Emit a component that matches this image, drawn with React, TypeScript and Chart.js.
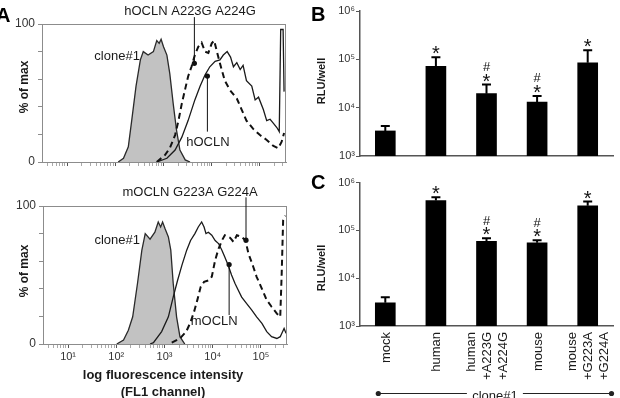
import React, { useEffect, useRef } from "react";
import { Chart, registerables } from "chart.js";

Chart.register(...registerables);

const FONT = '"Liberation Sans", Arial, Helvetica, sans-serif';
const SUP = ["\u2070", "\u00B9", "\u00B2", "\u00B3", "\u2074", "\u2075", "\u2076"];

// ---------- Panel A, top (human occludin) : x = log10(FL1), y = % of max ----------
const topCloneX = [2.06, 2.17, 2.27, 2.34, 2.43, 2.52, 2.58, 2.68, 2.79, 2.86, 2.91, 2.95, 3.0, 3.07, 3.13, 3.2, 3.27, 3.34, 3.45, 3.55];
const topCloneY = [0, 2.7, 11, 30, 55, 74, 80, 77.5, 80, 88, 86, 89, 83.5, 77.5, 64, 42.5, 23, 8.7, 1.5, 0];
const topWtX = [2.86, 3.07, 3.24, 3.38, 3.51, 3.65, 3.76, 3.86, 3.96, 4.07, 4.17, 4.24, 4.32, 4.39, 4.45, 4.52, 4.59, 4.65, 4.72, 4.83, 4.9, 4.97, 5.07, 5.14, 5.21, 5.28, 5.35, 5.4, 5.43, 5.48, 5.5];
const topWtY = [0, 2.7, 8.7, 18, 30, 45, 55, 63, 69, 73, 74, 77.5, 80, 76, 69, 72, 67, 70, 59, 55, 45, 47, 38, 30, 31, 28, 25, 22, 96, 96, 51];
const topMutX = [2.86, 3.03, 3.13, 3.24, 3.31, 3.38, 3.45, 3.51, 3.58, 3.65, 3.72, 3.79, 3.86, 3.93, 4.0, 4.05, 4.1, 4.17, 4.27, 4.38, 4.52, 4.62, 4.72, 4.86, 5.0, 5.14, 5.28, 5.38, 5.45, 5.5];
const topMutY = [0, 5, 10, 19.5, 30, 42.5, 53, 62, 69, 77.5, 83.5, 86.5, 80, 79, 86, 88, 81, 71.5, 59, 52, 46, 38, 30, 24, 19.5, 16, 11.6, 10, 14.7, 21];

// ---------- Panel A, bottom (mouse occludin) ----------
const botCloneX = [2.01, 2.15, 2.25, 2.34, 2.44, 2.53, 2.6, 2.7, 2.8, 2.87, 2.92, 2.96, 3.01, 3.08, 3.13, 3.18, 3.25, 3.32, 3.42];
const botCloneY = [0, 2.9, 10, 19.7, 44, 68, 80, 76, 81, 88.4, 84.8, 88.4, 83.7, 77.6, 68, 44, 19.7, 5.3, 0];
const botWtX = [2.7, 2.77, 2.94, 3.08, 3.18, 3.27, 3.36, 3.46, 3.54, 3.63, 3.7, 3.77, 3.82, 3.86, 3.91, 3.98, 4.05, 4.12, 4.19, 4.25, 4.32, 4.39, 4.46, 4.53, 4.6, 4.7, 4.81, 4.91, 5.02, 5.12, 5.22, 5.33, 5.4, 5.45, 5.48, 5.52];
const botWtY = [0, 1, 9, 19.7, 34, 46, 57, 68, 75, 80, 84.8, 88.4, 84.8, 80, 81, 78.8, 75, 72.8, 68, 63, 57, 50, 44, 39, 34, 29.4, 24.6, 19.7, 15, 9, 5.3, 4, 5.3, 9, 11.3, 7.7];
const botMutX = [3.15, 3.32, 3.45, 3.53, 3.61, 3.68, 3.75, 3.82, 3.91, 3.98, 4.05, 4.12, 4.19, 4.25, 4.36, 4.43, 4.5, 4.6, 4.68, 4.74, 4.84, 4.91, 5.02, 5.12, 5.22, 5.33, 5.4, 5.43, 5.46, 5.51];
const botMutY = [1, 4, 9, 15, 23, 31.8, 41.4, 45, 46, 48.7, 60.7, 69, 75, 78.8, 77, 74, 78.8, 77.6, 75, 65.6, 56, 48.7, 40, 31.8, 27, 22, 19.7, 51, 89.7, 93];

const histDecades = [1, 2, 3, 4, 5];
const X_MIN = 0.48;
const X_MAX = 5.54;

// ---------- Panels B and C : RLU/well ----------
const barCategories = [["mock"], ["human"], ["human", "+A223G", "+A224G"], ["mouse"], ["mouse", "+G223A", "+G224A"]];
const bMeans = [3300, 72000, 19500, 13000, 85000];
const bErrTop = [4200, 110000, 30000, 17500, 155000];
const cMeans = [3050, 420000, 59000, 55000, 325000];
const cErrTop = [4000, 490000, 68000, 62000, 400000];
const starFlags = [false, true, true, true, true];
const hashFlags = [false, false, true, true, false];
const rluTicks = [1e3, 1e4, 1e5, 1e6];

const zip = (xs: number[], ys: number[]) => xs.map((x, i) => ({ x, y: ys[i] }));
const isDecade = (v: number) => typeof v === "number" && Math.abs(v - Math.round(v)) < 1e-6;

function logTicks() {
  const out: { value: number }[] = [];
  for (let d = 0; d <= 5; d++) {
    for (let k = 1; k <= 9; k++) {
      const v = d + Math.log10(k);
      if (v >= X_MIN && v <= X_MAX) out.push({ value: v });
    }
  }
  return out;
}

type Pointer = { dx: number; dy: number; ly: number };
type Label = { text: string; x: number; y: number; align: CanvasTextAlign };

function makeHist(
  canvas: HTMLCanvasElement,
  cfg: {
    cloneX: number[]; cloneY: number[]; wtX: number[]; wtY: number[]; mutX: number[]; mutY: number[];
    showXLabels: boolean; xAxisHeight: number; yAxisWidth: number; padTop: number; padRight: number;
    pointers: Pointer[]; labels: Label[]; extra: (ctx: CanvasRenderingContext2D, ca: any) => void;
  }
) {
  const plugin = {
    id: "histAnno",
    afterDatasetsDraw(chart: any) {
      const { ctx, chartArea: ca, scales } = chart;
      const xs = scales.x;
      const ys = scales.y;
      ctx.save();
      ctx.strokeStyle = "#8c8c8c";
      ctx.lineWidth = 1;
      ctx.strokeRect(Math.round(ca.left) + 0.5, Math.round(ca.top) + 0.5, Math.round(ca.right - ca.left) - 1, Math.round(ca.bottom - ca.top));
      ctx.strokeStyle = "#111";
      ctx.fillStyle = "#111";
      ctx.lineWidth = 1;
      for (const p of cfg.pointers) {
        const px = xs.getPixelForValue(p.dx);
        const py = ys.getPixelForValue(p.dy);
        const ly = ys.getPixelForValue(p.ly);
        ctx.beginPath();
        ctx.moveTo(px, py);
        ctx.lineTo(px, ly);
        ctx.stroke();
        ctx.beginPath();
        ctx.arc(px, py, 2.6, 0, Math.PI * 2);
        ctx.fill();
      }
      ctx.font = `13px ${FONT}`;
      ctx.fillStyle = "#1a1a1a";
      ctx.textBaseline = "middle";
      for (const l of cfg.labels) {
        ctx.textAlign = l.align;
        ctx.fillText(l.text, xs.getPixelForValue(l.x), ys.getPixelForValue(l.y));
      }
      cfg.extra(ctx, ca);
      ctx.restore();
    },
  };
  return new Chart(canvas, {
    type: "line",
    data: {
      datasets: [
        { data: zip(cfg.mutX, cfg.mutY), borderColor: "#111", borderWidth: 2, borderDash: [6, 4], pointRadius: 0, fill: false, tension: 0 },
        { data: zip(cfg.wtX, cfg.wtY), borderColor: "#1a1a1a", borderWidth: 1.3, pointRadius: 0, fill: false, tension: 0 },
        { data: zip(cfg.cloneX, cfg.cloneY), borderColor: "#2a2a2a", borderWidth: 1.3, backgroundColor: "#c2c2c2", fill: "origin", pointRadius: 0, tension: 0 },
      ],
    },
    options: {
      animation: false,
      responsive: false,
      layout: { padding: { top: cfg.padTop, right: cfg.padRight, left: 0, bottom: 0 } },
      plugins: { legend: { display: false }, tooltip: { enabled: false } },
      scales: {
        x: {
          type: "linear",
          min: X_MIN,
          max: X_MAX,
          afterBuildTicks: (s: any) => { s.ticks = logTicks(); },
          afterFit: (s: any) => { s.height = cfg.xAxisHeight; },
          ticks: {
            autoSkip: false, maxRotation: 0, minRotation: 0, padding: 2,
            font: { family: FONT, size: 11 }, color: "#333",
            callback: (v: any) => (cfg.showXLabels && isDecade(v) && histDecades.includes(Math.round(v)) ? "10" + SUP[Math.round(v)] : ""),
          },
          grid: {
            display: true, drawOnChartArea: false, tickLength: 4,
            tickColor: (c: any) => (c.tick && isDecade(c.tick.value) ? "#555" : "#aaa"),
          },
          border: { display: true, color: "#8c8c8c" },
        },
        y: {
          min: 0, max: 100,
          afterFit: (s: any) => { s.width = cfg.yAxisWidth; },
          ticks: {
            stepSize: 20, padding: 3, font: { family: FONT, size: 12 }, color: "#333",
            callback: (v: any) => (v === 0 || v === 100 ? String(v) : ""),
          },
          grid: { display: true, drawOnChartArea: false, tickLength: 4, color: "#8c8c8c" },
          border: { display: true, color: "#8c8c8c" },
        },
      },
    } as any,
    plugins: [plugin],
  });
}

function makeBars(
  canvas: HTMLCanvasElement,
  cfg: {
    means: number[]; errTop: number[]; padTop: number; xAxisHeight: number; showLabels: boolean;
    extra: (ctx: CanvasRenderingContext2D, chart: any) => void;
  }
) {
  const plugin = {
    id: "barAnno",
    afterDatasetsDraw(chart: any) {
      const { ctx, scales } = chart;
      const ys = scales.y;
      const meta = chart.getDatasetMeta(0);
      ctx.save();
      ctx.strokeStyle = "#000";
      ctx.fillStyle = "#111";
      ctx.lineWidth = 2;
      meta.data.forEach((bar: any, i: number) => {
        const x = bar.x;
        const top = ys.getPixelForValue(cfg.errTop[i]);
        ctx.beginPath();
        ctx.moveTo(x, bar.y);
        ctx.lineTo(x, top);
        ctx.moveTo(x - 4.5, top);
        ctx.lineTo(x + 4.5, top);
        ctx.stroke();
        ctx.textAlign = "center";
        ctx.textBaseline = "alphabetic";
        if (starFlags[i]) {
          ctx.font = `20px ${FONT}`;
          const m = ctx.measureText("*");
          const c = top - 7;
          ctx.fillText("*", x, c + (m.actualBoundingBoxAscent - m.actualBoundingBoxDescent) / 2);
        }
        if (hashFlags[i]) {
          ctx.font = `13px ${FONT}`;
          const m = ctx.measureText("#");
          const c = top - 18;
          ctx.fillText("#", x, c + (m.actualBoundingBoxAscent - m.actualBoundingBoxDescent) / 2);
        }
      });
      if (cfg.showLabels) {
        const xs = scales.x;
        const axisY = chart.chartArea.bottom;
        ctx.font = `13px ${FONT}`;
        ctx.fillStyle = "#1a1a1a";
        ctx.textAlign = "right";
        ctx.textBaseline = "middle";
        barCategories.forEach((lines, i) => {
          const cx = xs.getPixelForValue(i);
          const n = lines.length;
          lines.forEach((line, j) => {
            ctx.save();
            ctx.translate(cx + (j - (n - 1) / 2) * 16 + 1, axisY + 6);
            ctx.rotate(-Math.PI / 2);
            ctx.fillText(line, 0, 0);
            ctx.restore();
          });
        });
      }
      cfg.extra(ctx, chart);
      ctx.restore();
    },
  };
  return new Chart(canvas, {
    type: "bar",
    data: {
      labels: barCategories.map((l) => l.join(" ")),
      datasets: [{ data: cfg.means, backgroundColor: "#000", barThickness: 20 }],
    },
    options: {
      animation: false,
      responsive: false,
      layout: { padding: { top: cfg.padTop, right: 7, left: 0, bottom: 0 } },
      plugins: { legend: { display: false }, tooltip: { enabled: false } },
      scales: {
        x: {
          afterFit: (s: any) => { s.height = cfg.xAxisHeight; },
          ticks: { display: false },
          grid: { display: false },
          border: { display: true, color: "#555", width: 1.5 },
        },
        y: {
          type: "logarithmic",
          min: 1e3,
          max: 1e6,
          afterFit: (s: any) => { s.width = 50; },
          afterBuildTicks: (s: any) => { s.ticks = rluTicks.map((v) => ({ value: v })); },
          ticks: {
            padding: 1, font: { family: FONT, size: 11 }, color: "#333",
            callback: (v: any) => "10" + SUP[Math.round(Math.log10(v))],
          },
          grid: { display: true, drawOnChartArea: false, tickLength: 4, color: "#555" },
          border: { display: true, color: "#555", width: 1.5 },
        },
      },
    } as any,
    plugins: [plugin],
  });
}

function rotatedTitle(ctx: CanvasRenderingContext2D, text: string, x: number, y: number, size: number) {
  ctx.save();
  ctx.translate(x, y);
  ctx.rotate(-Math.PI / 2);
  ctx.font = `bold ${size}px ${FONT}`;
  ctx.textAlign = "center";
  ctx.textBaseline = "middle";
  ctx.fillStyle = "#1a1a1a";
  ctx.fillText(text, 0, 0);
  ctx.restore();
}

function panelLetter(ctx: CanvasRenderingContext2D, text: string, x: number, y: number) {
  ctx.fillStyle = "#000";
  ctx.font = `bold 20px ${FONT}`;
  ctx.textAlign = "left";
  ctx.textBaseline = "alphabetic";
  ctx.fillText(text, x, y);
}

export default function App() {
  const a1 = useRef<HTMLCanvasElement>(null);
  const a2 = useRef<HTMLCanvasElement>(null);
  const b = useRef<HTMLCanvasElement>(null);
  const c = useRef<HTMLCanvasElement>(null);

  useEffect(() => {
    const charts: Chart[] = [];
    charts.push(
      makeHist(a1.current!, {
        cloneX: topCloneX, cloneY: topCloneY, wtX: topWtX, wtY: topWtY, mutX: topMutX, mutY: topMutY,
        showXLabels: false, xAxisHeight: 23, yAxisWidth: 42, padTop: 24, padRight: 14,
        pointers: [
          { dx: 3.64, dy: 71.5, ly: 105 },
          { dx: 3.91, dy: 62.3, ly: 22 },
        ],
        labels: [
          { text: "hOCLN A223G A224G", x: 3.55, y: 108.9, align: "center" },
          { text: "hOCLN", x: 3.92, y: 14, align: "center" },
          { text: "clone#1", x: 2.51, y: 76.3, align: "right" },
        ],
        extra: (ctx) => {
          panelLetter(ctx, "A", -4, 22);
          rotatedTitle(ctx, "% of max", 25, 87, 12);
        },
      })
    );
    charts.push(
      makeHist(a2.current!, {
        cloneX: botCloneX, cloneY: botCloneY, wtX: botWtX, wtY: botWtY, mutX: botMutX, mutY: botMutY,
        showXLabels: true, xAxisHeight: 54, yAxisWidth: 43, padTop: 21, padRight: 13,
        pointers: [
          { dx: 4.69, dy: 75.2, ly: 106.3 },
          { dx: 4.34, dy: 57.6, ly: 21 },
        ],
        labels: [
          { text: "mOCLN G223A G224A", x: 3.53, y: 110.1, align: "center" },
          { text: "mOCLN", x: 4.03, y: 16.6, align: "center" },
          { text: "clone#1", x: 2.49, y: 75.2, align: "right" },
        ],
        extra: (ctx, ca) => {
          rotatedTitle(ctx, "% of max", 25, 86, 12);
          ctx.font = `bold 13px ${FONT}`;
          ctx.fillStyle = "#1a1a1a";
          ctx.textAlign = "center";
          ctx.textBaseline = "middle";
          const cx = (ca.left + ca.right) / 2 - 2;
          ctx.fillText("log fluorescence intensity", cx, ca.bottom + 31);
          ctx.fillText("(FL1 channel)", cx, ca.bottom + 48);
        },
      })
    );
    charts.push(
      makeBars(b.current!, {
        means: bMeans, errTop: bErrTop, padTop: 11, xAxisHeight: 9, showLabels: false,
        extra: (ctx) => {
          panelLetter(ctx, "B", 1, 21);
          rotatedTitle(ctx, "RLU/well", 12, 81, 11);
        },
      })
    );
    charts.push(
      makeBars(c.current!, {
        means: cMeans, errTop: cErrTop, padTop: 17.5, xAxisHeight: 72, showLabels: true,
        extra: (ctx, chart) => {
          panelLetter(ctx, "C", 1, 24);
          rotatedTitle(ctx, "RLU/well", 12, 103, 11);
          const xs = chart.scales.x;
          const ca = chart.chartArea;
          const left = xs.getPixelForValue(0) - 7;
          const right = ca.right - 1.5;
          const y = 228.5;
          const mid = (left + right) / 2;
          ctx.strokeStyle = "#222";
          ctx.fillStyle = "#222";
          ctx.lineWidth = 1;
          ctx.beginPath();
          ctx.moveTo(left, y);
          ctx.lineTo(mid - 28, y);
          ctx.moveTo(mid + 28, y);
          ctx.lineTo(right, y);
          ctx.stroke();
          for (const px of [left, right]) {
            ctx.beginPath();
            ctx.arc(px, y, 2.6, 0, Math.PI * 2);
            ctx.fill();
          }
          ctx.font = `13px ${FONT}`;
          ctx.textAlign = "center";
          ctx.textBaseline = "alphabetic";
          ctx.fillStyle = "#1a1a1a";
          ctx.fillText("clone#1", mid, 234.5);
        },
      })
    );
    return () => charts.forEach((ch) => ch.destroy());
  }, []);

  const box: React.CSSProperties = { position: "absolute" };
  return (
    <div style={{ position: "fixed", left: 0, top: 0, width: 620, height: 398, background: "#fff", overflow: "hidden" }}>
      <canvas ref={a1} width={300} height={185} style={{ ...box, left: 0, top: 0 }} />
      <canvas ref={a2} width={300} height={213} style={{ ...box, left: 0, top: 185 }} />
      <canvas ref={b} width={310} height={165} style={{ ...box, left: 310, top: 0 }} />
      <canvas ref={c} width={310} height={233} style={{ ...box, left: 310, top: 165 }} />
    </div>
  );
}
